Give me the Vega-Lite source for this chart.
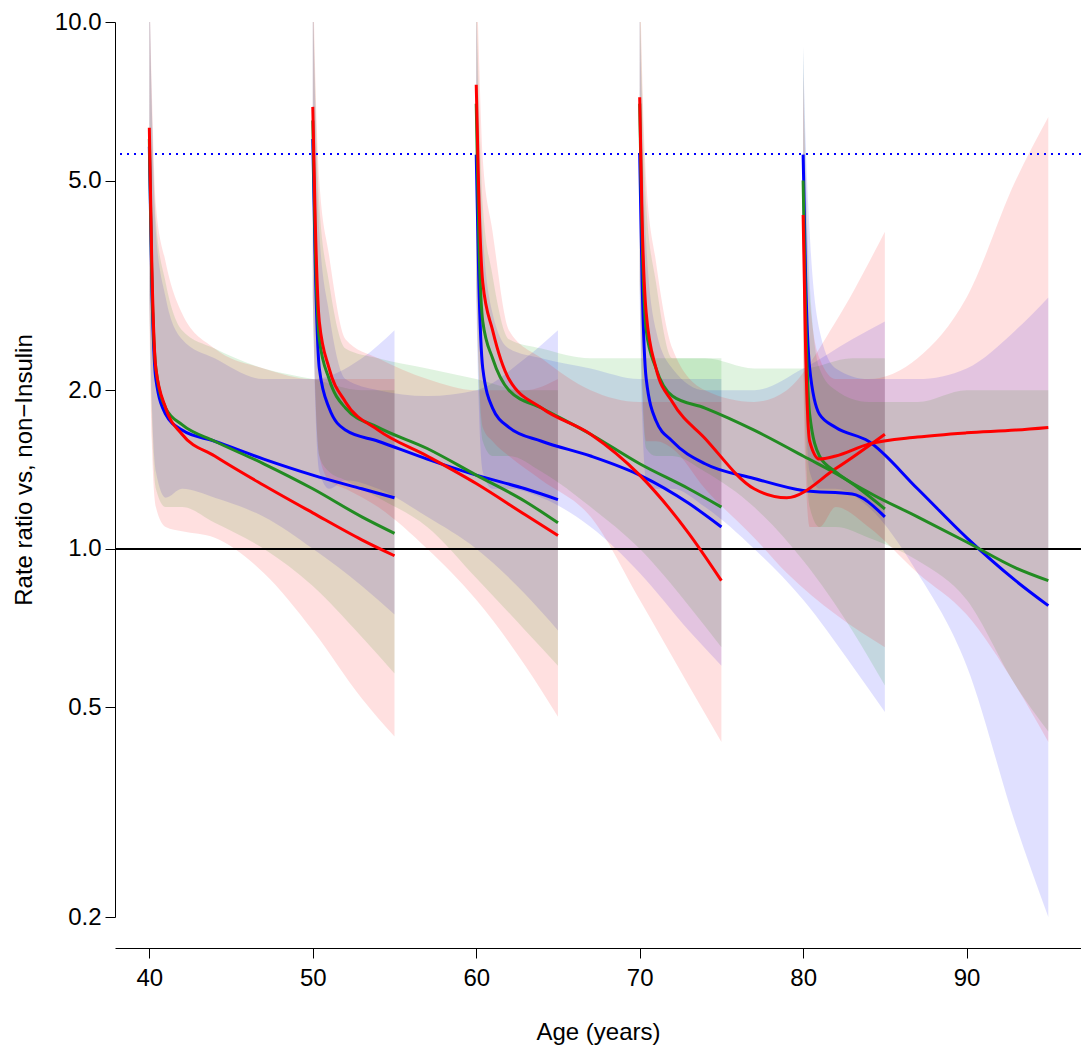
{
  "$schema": "https://vega.github.io/schema/vega-lite/v6.json",
  "width": 966,
  "height": 895,
  "autosize": {"type": "none"},
  "padding": {"left": 115, "top": 22, "right": 0, "bottom": 139},
  "background": "white",
  "config": {
    "view": {"stroke": null},
    "font": "Liberation Sans",
    "axis": {"labelFontSize": 24, "titleFontSize": 24, "titleFontWeight": "normal", "labelColor": "black", "titleColor": "black", "domainColor": "black", "tickColor": "black", "tickSize": 10, "grid": false, "labelFont": "Liberation Sans", "titleFont": "Liberation Sans"}
  },
  "data": {"values": [
    {"s":40,"g":"b","x":40,"y":5.8,"lo":3,"hi":12},{"s":40,"g":"b","x":40.15,"y":3.2,"lo":1.9,"hi":7},{"s":40,"g":"b","x":40.4,"y":2.1,"lo":1.4,"hi":4},{"s":40,"g":"b","x":41,"y":1.8,"lo":1.25,"hi":3},{"s":40,"g":"b","x":42,"y":1.68,"lo":1.3,"hi":2.5},{"s":40,"g":"b","x":44,"y":1.6,"lo":1.25,"hi":2.3},{"s":40,"g":"b","x":47,"y":1.48,"lo":1.15,"hi":2.1},{"s":40,"g":"b","x":50,"y":1.38,"lo":1.0,"hi":2.1},{"s":40,"g":"b","x":53,"y":1.3,"lo":0.85,"hi":2.3},{"s":40,"g":"b","x":55,"y":1.25,"lo":0.75,"hi":2.6},
    {"s":40,"g":"g","x":40,"y":6.0,"lo":3,"hi":12},{"s":40,"g":"g","x":40.15,"y":3.3,"lo":1.8,"hi":7},{"s":40,"g":"g","x":40.4,"y":2.2,"lo":1.3,"hi":4.2},{"s":40,"g":"g","x":41,"y":1.85,"lo":1.2,"hi":3.2},{"s":40,"g":"g","x":42,"y":1.72,"lo":1.2,"hi":2.6},{"s":40,"g":"g","x":44,"y":1.6,"lo":1.12,"hi":2.4},{"s":40,"g":"g","x":47,"y":1.45,"lo":1.0,"hi":2.2},{"s":40,"g":"g","x":50,"y":1.3,"lo":0.85,"hi":2.1},{"s":40,"g":"g","x":53,"y":1.15,"lo":0.68,"hi":2.0},{"s":40,"g":"g","x":55,"y":1.07,"lo":0.58,"hi":2.0},
    {"s":40,"g":"r","x":40,"y":6.3,"lo":2.8,"hi":12},{"s":40,"g":"r","x":40.15,"y":3.5,"lo":1.6,"hi":7.5},{"s":40,"g":"r","x":40.4,"y":2.2,"lo":1.2,"hi":4.5},{"s":40,"g":"r","x":41,"y":1.85,"lo":1.1,"hi":3.5},{"s":40,"g":"r","x":42,"y":1.65,"lo":1.08,"hi":2.8},{"s":40,"g":"r","x":44,"y":1.5,"lo":1.05,"hi":2.4},{"s":40,"g":"r","x":47,"y":1.32,"lo":0.9,"hi":2.2},{"s":40,"g":"r","x":50,"y":1.17,"lo":0.7,"hi":2.1},{"s":40,"g":"r","x":53,"y":1.04,"lo":0.52,"hi":2.1},{"s":40,"g":"r","x":55,"y":0.97,"lo":0.44,"hi":2.1},
    {"s":50,"g":"b","x":50,"y":6.0,"lo":3,"hi":12},{"s":50,"g":"b","x":50.15,"y":3.5,"lo":1.9,"hi":7},{"s":50,"g":"b","x":50.4,"y":2.2,"lo":1.4,"hi":4},{"s":50,"g":"b","x":51,"y":1.85,"lo":1.3,"hi":2.8},{"s":50,"g":"b","x":52,"y":1.68,"lo":1.35,"hi":2.1},{"s":50,"g":"b","x":54,"y":1.6,"lo":1.3,"hi":2.0},{"s":50,"g":"b","x":57,"y":1.48,"lo":1.15,"hi":1.95},{"s":50,"g":"b","x":60,"y":1.38,"lo":1.0,"hi":2.0},{"s":50,"g":"b","x":63,"y":1.3,"lo":0.82,"hi":2.3},{"s":50,"g":"b","x":65,"y":1.24,"lo":0.7,"hi":2.6},
    {"s":50,"g":"g","x":50,"y":6.5,"lo":3,"hi":12},{"s":50,"g":"g","x":50.15,"y":3.8,"lo":2,"hi":7.5},{"s":50,"g":"g","x":50.4,"y":2.5,"lo":1.5,"hi":4.5},{"s":50,"g":"g","x":51,"y":2.1,"lo":1.4,"hi":3.2},{"s":50,"g":"g","x":52,"y":1.85,"lo":1.35,"hi":2.4},{"s":50,"g":"g","x":54,"y":1.7,"lo":1.25,"hi":2.3},{"s":50,"g":"g","x":57,"y":1.55,"lo":1.1,"hi":2.2},{"s":50,"g":"g","x":60,"y":1.38,"lo":0.88,"hi":2.1},{"s":50,"g":"g","x":63,"y":1.23,"lo":0.7,"hi":2.0},{"s":50,"g":"g","x":65,"y":1.12,"lo":0.6,"hi":2.0},
    {"s":50,"g":"r","x":50,"y":6.9,"lo":3,"hi":13},{"s":50,"g":"r","x":50.15,"y":4.2,"lo":2,"hi":8},{"s":50,"g":"r","x":50.4,"y":2.7,"lo":1.5,"hi":5},{"s":50,"g":"r","x":51,"y":2.2,"lo":1.35,"hi":3.6},{"s":50,"g":"r","x":52,"y":1.9,"lo":1.3,"hi":2.5},{"s":50,"g":"r","x":54,"y":1.68,"lo":1.2,"hi":2.3},{"s":50,"g":"r","x":57,"y":1.5,"lo":1.0,"hi":2.1},{"s":50,"g":"r","x":60,"y":1.33,"lo":0.8,"hi":2.0},{"s":50,"g":"r","x":63,"y":1.16,"lo":0.6,"hi":2.0},{"s":50,"g":"r","x":65,"y":1.06,"lo":0.48,"hi":2.1},
    {"s":60,"g":"b","x":60,"y":5.6,"lo":3,"hi":11},{"s":60,"g":"b","x":60.15,"y":3.3,"lo":1.9,"hi":6.5},{"s":60,"g":"b","x":60.4,"y":2.2,"lo":1.4,"hi":4},{"s":60,"g":"b","x":61,"y":1.85,"lo":1.3,"hi":2.8},{"s":60,"g":"b","x":62,"y":1.7,"lo":1.3,"hi":2.4},{"s":60,"g":"b","x":64,"y":1.6,"lo":1.25,"hi":2.3},{"s":60,"g":"b","x":67,"y":1.5,"lo":1.1,"hi":2.2},{"s":60,"g":"b","x":70,"y":1.38,"lo":0.9,"hi":2.1},{"s":60,"g":"b","x":73,"y":1.22,"lo":0.7,"hi":2.1},{"s":60,"g":"b","x":75,"y":1.1,"lo":0.6,"hi":2.1},
    {"s":60,"g":"g","x":60,"y":7.0,"lo":3.2,"hi":12},{"s":60,"g":"g","x":60.15,"y":4.0,"lo":2.1,"hi":7.5},{"s":60,"g":"g","x":60.4,"y":2.7,"lo":1.6,"hi":4.5},{"s":60,"g":"g","x":61,"y":2.3,"lo":1.5,"hi":3.3},{"s":60,"g":"g","x":62,"y":2.0,"lo":1.5,"hi":2.5},{"s":60,"g":"g","x":64,"y":1.85,"lo":1.4,"hi":2.4},{"s":60,"g":"g","x":67,"y":1.65,"lo":1.2,"hi":2.3},{"s":60,"g":"g","x":70,"y":1.45,"lo":1.0,"hi":2.3},{"s":60,"g":"g","x":73,"y":1.3,"lo":0.78,"hi":2.3},{"s":60,"g":"g","x":75,"y":1.2,"lo":0.65,"hi":2.3},
    {"s":60,"g":"r","x":60,"y":7.6,"lo":3.2,"hi":13},{"s":60,"g":"r","x":60.15,"y":4.8,"lo":2.2,"hi":9},{"s":60,"g":"r","x":60.4,"y":3.2,"lo":1.7,"hi":5.5},{"s":60,"g":"r","x":61,"y":2.6,"lo":1.6,"hi":4.0},{"s":60,"g":"r","x":62,"y":2.1,"lo":1.5,"hi":2.6},{"s":60,"g":"r","x":64,"y":1.85,"lo":1.35,"hi":2.3},{"s":60,"g":"r","x":67,"y":1.65,"lo":1.15,"hi":2.0},{"s":60,"g":"r","x":70,"y":1.38,"lo":0.8,"hi":1.9},{"s":60,"g":"r","x":73,"y":1.07,"lo":0.55,"hi":1.9},{"s":60,"g":"r","x":75,"y":0.87,"lo":0.43,"hi":1.9},
    {"s":70,"g":"b","x":70,"y":5.6,"lo":3,"hi":11},{"s":70,"g":"b","x":70.15,"y":3.2,"lo":1.8,"hi":6.5},{"s":70,"g":"b","x":70.4,"y":2.1,"lo":1.35,"hi":3.8},{"s":70,"g":"b","x":71,"y":1.75,"lo":1.3,"hi":2.6},{"s":70,"g":"b","x":72,"y":1.6,"lo":1.3,"hi":2.2},{"s":70,"g":"b","x":74,"y":1.45,"lo":1.2,"hi":2.0},{"s":70,"g":"b","x":77,"y":1.36,"lo":1.0,"hi":2.0},{"s":70,"g":"b","x":80,"y":1.29,"lo":0.8,"hi":2.2},{"s":70,"g":"b","x":83,"y":1.27,"lo":0.6,"hi":2.5},{"s":70,"g":"b","x":85,"y":1.15,"lo":0.49,"hi":2.7},
    {"s":70,"g":"g","x":70,"y":7.0,"lo":3.2,"hi":12},{"s":70,"g":"g","x":70.15,"y":3.9,"lo":2.0,"hi":7.5},{"s":70,"g":"g","x":70.4,"y":2.6,"lo":1.55,"hi":4.5},{"s":70,"g":"g","x":71,"y":2.2,"lo":1.5,"hi":3.2},{"s":70,"g":"g","x":72,"y":1.95,"lo":1.5,"hi":2.3},{"s":70,"g":"g","x":74,"y":1.85,"lo":1.4,"hi":2.3},{"s":70,"g":"g","x":77,"y":1.68,"lo":1.2,"hi":2.2},{"s":70,"g":"g","x":80,"y":1.5,"lo":0.95,"hi":2.2},{"s":70,"g":"g","x":83,"y":1.33,"lo":0.7,"hi":2.3},{"s":70,"g":"g","x":85,"y":1.19,"lo":0.55,"hi":2.3},
    {"s":70,"g":"r","x":70,"y":7.2,"lo":3.2,"hi":13},{"s":70,"g":"r","x":70.15,"y":4.2,"lo":2.1,"hi":8},{"s":70,"g":"r","x":70.4,"y":2.8,"lo":1.6,"hi":5},{"s":70,"g":"r","x":71,"y":2.2,"lo":1.6,"hi":3.5},{"s":70,"g":"r","x":72,"y":1.9,"lo":1.55,"hi":2.4},{"s":70,"g":"r","x":74,"y":1.62,"lo":1.3,"hi":2.0},{"s":70,"g":"r","x":77,"y":1.3,"lo":1.05,"hi":1.9},{"s":70,"g":"r","x":79,"y":1.25,"lo":0.9,"hi":2.0},{"s":70,"g":"r","x":82,"y":1.42,"lo":0.75,"hi":2.7},{"s":70,"g":"r","x":85,"y":1.65,"lo":0.65,"hi":4.0},
    {"s":80,"g":"b","x":80,"y":5.6,"lo":3,"hi":9},{"s":80,"g":"b","x":80.15,"y":3.3,"lo":1.9,"hi":6},{"s":80,"g":"b","x":80.4,"y":2.2,"lo":1.4,"hi":4},{"s":80,"g":"b","x":81,"y":1.8,"lo":1.3,"hi":2.6},{"s":80,"g":"b","x":82,"y":1.7,"lo":1.3,"hi":2.2},{"s":80,"g":"b","x":84,"y":1.6,"lo":1.2,"hi":2.1},{"s":80,"g":"b","x":87,"y":1.3,"lo":0.9,"hi":2.1},{"s":80,"g":"b","x":90,"y":1.05,"lo":0.6,"hi":2.2},{"s":80,"g":"b","x":93,"y":0.87,"lo":0.3,"hi":2.6},{"s":80,"g":"b","x":95,"y":0.78,"lo":0.2,"hi":3.0},
    {"s":80,"g":"g","x":80,"y":5.0,"lo":2.5,"hi":9},{"s":80,"g":"g","x":80.15,"y":2.8,"lo":1.6,"hi":5.5},{"s":80,"g":"g","x":80.4,"y":1.8,"lo":1.2,"hi":3.2},{"s":80,"g":"g","x":81,"y":1.5,"lo":1.1,"hi":2.2},{"s":80,"g":"g","x":82,"y":1.4,"lo":1.1,"hi":2.0},{"s":80,"g":"g","x":84,"y":1.28,"lo":1.05,"hi":1.9},{"s":80,"g":"g","x":87,"y":1.15,"lo":0.95,"hi":1.9},{"s":80,"g":"g","x":90,"y":1.03,"lo":0.8,"hi":2.0},{"s":80,"g":"g","x":93,"y":0.92,"lo":0.55,"hi":2.0},{"s":80,"g":"g","x":95,"y":0.87,"lo":0.45,"hi":2.0},
    {"s":80,"g":"r","x":80,"y":4.3,"lo":2.2,"hi":8},{"s":80,"g":"r","x":80.15,"y":2.4,"lo":1.4,"hi":5},{"s":80,"g":"r","x":80.4,"y":1.6,"lo":1.1,"hi":3},{"s":80,"g":"r","x":81,"y":1.48,"lo":1.1,"hi":2.3},{"s":80,"g":"r","x":82,"y":1.5,"lo":1.2,"hi":2.1},{"s":80,"g":"r","x":84,"y":1.58,"lo":1.1,"hi":2.1},{"s":80,"g":"r","x":87,"y":1.63,"lo":0.9,"hi":2.3},{"s":80,"g":"r","x":90,"y":1.66,"lo":0.75,"hi":3.0},{"s":80,"g":"r","x":93,"y":1.68,"lo":0.55,"hi":5.0},{"s":80,"g":"r","x":95,"y":1.7,"lo":0.43,"hi":6.6}
  ]},
  "layer": [
    {
      "mark": {"type": "area", "fillOpacity": 0.12, "clip": true, "interpolate": "monotone"},
      "encoding": {
        "x": {"field": "x", "type": "quantitative", "scale": {"domain": [37.9, 97], "nice": false, "zero": false},
          "axis": {"values": [40, 50, 60, 70, 80, 90], "title": "Age (years)", "offset": 31, "titlePadding": 30, "labelPadding": 8}},
        "y": {"field": "lo", "type": "quantitative", "scale": {"type": "log", "domain": [0.2, 10], "nice": false},
          "axis": {"values": [0.2, 0.5, 1, 2, 5, 10], "format": ".1f", "title": "Rate ratio vs, non\u2212Insulin", "titlePadding": 18, "labelPadding": 4}},
        "y2": {"field": "hi"},
        "color": {"field": "g", "type": "nominal", "scale": {"domain": ["b", "g", "r"], "range": ["#0000FF", "#00A000", "#FF0000"]}, "legend": null},
        "detail": [{"field": "s"}, {"field": "g"}]
      }
    },
    {
      "mark": {"type": "rule", "color": "black", "strokeWidth": 1.5},
      "encoding": {"y": {"datum": 1}}
    },
    {
      "mark": {"type": "rule", "color": "#0000FF", "strokeWidth": 1.5, "strokeDash": [2, 5]},
      "encoding": {"y": {"datum": 5.62}}
    },
    {
      "mark": {"type": "line", "strokeWidth": 3, "clip": true, "interpolate": "monotone"},
      "encoding": {
        "x": {"field": "x", "type": "quantitative"},
        "y": {"field": "y", "type": "quantitative"},
        "color": {"field": "g", "type": "nominal", "scale": {"domain": ["b", "g", "r"], "range": ["#0000FF", "#228B22", "#FF0000"]}, "legend": null},
        "detail": [{"field": "s"}, {"field": "g"}]
      }
    }
  ],
  "resolve": {"scale": {"color": "independent"}}
}
